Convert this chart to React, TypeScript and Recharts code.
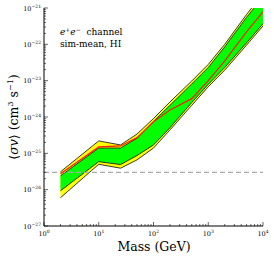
import { ComposedChart, Area, Line, XAxis, YAxis, ReferenceLine } from "recharts";

const masses = [2, 10, 25, 50, 100, 200, 500, 1000, 2000, 5000, 10000];
const outerHigh = [3.1e-26, 2.2e-25, 1.7e-25, 3.4e-25, 9.1e-25, 2.6e-24, 9.8e-24, 2.8e-23, 1.0e-22, 6.6e-22, 2.5e-21];
const innerHigh = [2.4e-26, 1.4e-25, 1.4e-25, 2.6e-25, 7.6e-25, 2.1e-24, 8.1e-24, 2.3e-23, 8.5e-23, 5.5e-22, 2.0e-21];
const innerLow = [9.3e-27, 5.9e-26, 4.9e-26, 8.7e-26, 1.7e-25, 5.1e-25, 2.5e-24, 7.9e-24, 2.3e-23, 1.1e-22, 3.7e-22];
const outerLow = [6.0e-27, 5.0e-26, 3.9e-26, 6.6e-26, 1.4e-25, 4.4e-25, 2.1e-24, 6.8e-24, 1.95e-23, 9.5e-23, 3.2e-22];
const median = [2.75e-26, 1.5e-25, 1.6e-25, 2.7e-25, 7.4e-25, 1.55e-24, 3.2e-24, 1.0e-23, 3.5e-23, 2.2e-22, 7.8e-22];
const thermalRelic = 3e-26;

const xMajor = [1, 10, 100, 1000, 10000];
const yMajor = [1e-27, 1e-26, 1e-25, 1e-24, 1e-23, 1e-22, 1e-21];
const minorSteps = [2, 3, 4, 5, 6, 7, 8, 9];

const xTicks = [...xMajor, ...xMajor.slice(0, -1).flatMap((d) => minorSteps.map((k) => k * d))];
const yTicks = [...yMajor, ...yMajor.slice(0, -1).flatMap((d) => minorSteps.map((k) => k * d))];
const majorSet = new Set<number>([...xMajor, ...yMajor]);

const data = masses.map((m, i) => ({
  mass: m,
  outer: [outerLow[i], outerHigh[i]],
  inner: [innerLow[i], innerHigh[i]],
  median: median[i],
}));

const FONT = "'DejaVu Serif', serif";

const expOf = (v: number) => Math.round(Math.log10(v)).toString().replace("-", "\u2212");

function Pow({ v, x, y, anchor }: { v: number; x: number; y: number; anchor: string }) {
  return (
    <text x={x} y={y} textAnchor={anchor} fontSize={6.5} fontFamily={FONT} fill="#000">
      10
      <tspan dy={-3} fontSize={4.5}>
        {expOf(v)}
      </tspan>
    </text>
  );
}

function BottomTick(props: any) {
  const { x, y, payload } = props;
  const major = majorSet.has(payload.value);
  return (
    <g>
      <line x1={x} x2={x} y1={y} y2={y - (major ? 4 : 2)} stroke="#000" strokeWidth={0.6} />
      {major && <Pow v={payload.value} x={x} y={y + 10} anchor="middle" />}
    </g>
  );
}

function TopTick(props: any) {
  const { x, y, payload } = props;
  const major = majorSet.has(payload.value);
  return <line x1={x} x2={x} y1={y} y2={y + (major ? 4 : 2)} stroke="#000" strokeWidth={0.6} />;
}

function LeftTick(props: any) {
  const { x, y, payload } = props;
  const major = majorSet.has(payload.value);
  return (
    <g>
      <line x1={x} x2={x + (major ? 4 : 2)} y1={y} y2={y} stroke="#000" strokeWidth={0.6} />
      {major && <Pow v={payload.value} x={x - 3} y={y + 2.5} anchor="end" />}
    </g>
  );
}

function RightTick(props: any) {
  const { x, y, payload } = props;
  const major = majorSet.has(payload.value);
  return <line x1={x} x2={x - (major ? 4 : 2)} y1={y} y2={y} stroke="#000" strokeWidth={0.6} />;
}

export default function App() {
  return (
    <div style={{ position: "absolute", left: 0, top: 0, width: 274, height: 257, background: "#fff" }}>
      <ComposedChart width={274} height={257} data={data} margin={{ top: 8, right: 11, bottom: 0, left: 0 }}>
        <XAxis
          xAxisId="bottom"
          dataKey="mass"
          type="number"
          scale="log"
          domain={[1, 10000]}
          allowDataOverflow
          ticks={xTicks}
          interval={0}
          height={31}
          tickSize={0}
          tickMargin={0}
          tickLine={false}
          tick={<BottomTick />}
          axisLine={{ stroke: "#000", strokeWidth: 1 }}
        />
        <XAxis
          xAxisId="top"
          orientation="top"
          dataKey="mass"
          type="number"
          scale="log"
          domain={[1, 10000]}
          allowDataOverflow
          ticks={xTicks}
          interval={0}
          height={0}
          tickSize={0}
          tickMargin={0}
          tickLine={false}
          tick={<TopTick />}
          axisLine={{ stroke: "#000", strokeWidth: 1 }}
        />
        <YAxis
          yAxisId="left"
          type="number"
          scale="log"
          domain={[1e-27, 1e-21]}
          allowDataOverflow
          ticks={yTicks}
          interval={0}
          width={44}
          tickSize={0}
          tickMargin={0}
          tickLine={false}
          tick={<LeftTick />}
          axisLine={{ stroke: "#000", strokeWidth: 1 }}
        />
        <YAxis
          yAxisId="right"
          orientation="right"
          type="number"
          scale="log"
          domain={[1e-27, 1e-21]}
          allowDataOverflow
          ticks={yTicks}
          interval={0}
          width={0}
          tickSize={0}
          tickMargin={0}
          tickLine={false}
          tick={<RightTick />}
          axisLine={{ stroke: "#000", strokeWidth: 1 }}
        />
        <ReferenceLine
          xAxisId="bottom"
          yAxisId="left"
          y={thermalRelic}
          stroke="#aaaaaa"
          strokeWidth={1.2}
          strokeDasharray="5 3"
        />
        <Area
          xAxisId="bottom"
          yAxisId="left"
          dataKey="outer"
          type="linear"
          fill="#ffff00"
          fillOpacity={1}
          stroke="#222"
          strokeWidth={0.9}
          isAnimationActive={false}
        />
        <Area
          xAxisId="bottom"
          yAxisId="left"
          dataKey="inner"
          type="linear"
          fill="#00ff00"
          fillOpacity={1}
          stroke="#222"
          strokeWidth={0.9}
          isAnimationActive={false}
        />
        <Line
          xAxisId="bottom"
          yAxisId="left"
          dataKey="median"
          type="linear"
          stroke="#ff1a00"
          strokeWidth={1.2}
          dot={false}
          isAnimationActive={false}
        />
      </ComposedChart>
      <svg width={274} height={257} style={{ position: "absolute", left: 0, top: 0, pointerEvents: "none" }}>
        <text x={60} y={35} fontSize={9} fontFamily={FONT} fill="#000">
          <tspan fontStyle="italic">e</tspan>
          <tspan dy={-3.5} fontSize={6}>+</tspan>
          <tspan dy={3.5} fontStyle="italic">e</tspan>
          <tspan dy={-3.5} fontSize={6}>{"\u2212"}</tspan>
          <tspan dy={3.5}>{"\u00a0\u00a0channel"}</tspan>
        </text>
        <text x={60} y={47} fontSize={9} fontFamily={FONT} fill="#000">
          sim-mean, HI
        </text>
        <text x={154} y={251} textAnchor="middle" fontSize={12.5} fontFamily={FONT} fill="#000">
          Mass (GeV)
        </text>
        <text
          x={18}
          y={117}
          transform="rotate(-90 18 117)"
          textAnchor="middle"
          fontSize={12.5}
          fontFamily={FONT}
          fill="#000"
        >
          {"\u27e8"}
          <tspan fontStyle="italic">{"\u03c3v"}</tspan>
          {"\u27e9 (cm"}
          <tspan dy={-5} fontSize={8}>3</tspan>
          <tspan dy={5}>{" s"}</tspan>
          <tspan dy={-5} fontSize={8}>{"\u22121"}</tspan>
          <tspan dy={5}>)</tspan>
        </text>
      </svg>
    </div>
  );
}
